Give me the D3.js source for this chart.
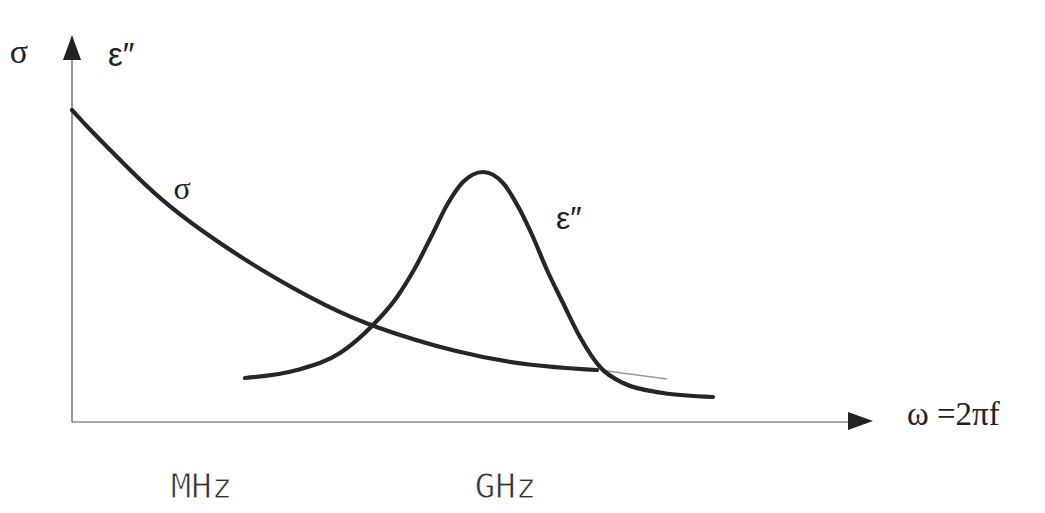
<!DOCTYPE html>
<html><head><meta charset="utf-8">
<script src="https://cdn.jsdelivr.net/npm/d3@7"></script>
<style>html,body{margin:0;padding:0;background:#fff;}svg{display:block;}</style>
</head><body>
<svg id="c" width="1045" height="513"></svg>
<script>
// Data (arbitrary units: x = log-frequency position, y = magnitude)
const sigmaX = [0, 21, 55, 88, 128, 188, 255, 301, 385, 458, 525];
const sigmaY = [312, 289, 255, 223, 192, 152, 115, 95, 69, 56, 52];
const epsX = [173, 225, 268, 298, 325, 343, 360, 375, 391, 411, 431, 448, 461, 475, 491, 508, 528, 551, 591, 641];
const epsY = [44, 52, 69, 94, 125, 154, 187, 217, 240, 250, 239, 212, 185, 152, 119, 85, 55, 39, 29, 25];
const faintX = [535, 595];
const faintY = [51, 43];
const tickLabels = ["MHz", "GHz"];
const tickPos = [129, 433];

const svg = d3.select("#c");
const x = d3.scaleLinear().domain([0, 780]).range([72, 852]);
const y = d3.scaleLinear().domain([0, 390]).range([422, 32]);
const ink = "#262626";

// axes
const xAxis = d3.axisBottom(x).tickValues(tickPos).tickFormat((d, i) => tickLabels[i]).tickSize(0).tickPadding(52);
const gx = svg.append("g").attr("transform", `translate(0,${y(0)})`).call(xAxis);
gx.select(".domain").attr("stroke", "#555").attr("stroke-width", 1.2).attr("d", `M${x(0)},0H${x(778)}`);
gx.selectAll("text").attr("font-family", "DejaVu Sans Mono, Liberation Mono, monospace").attr("font-size", 34)
  .attr("fill", "#333").attr("stroke", "#fff").attr("stroke-width", 0.8);

const yAxis = d3.axisLeft(y).tickValues([]).tickSizeOuter(0);
const gy = svg.append("g").attr("transform", `translate(${x(0)},0)`).call(yAxis);
gy.select(".domain").attr("stroke", "#555").attr("stroke-width", 1.2).attr("d", `M0,${y(0)}V${y(362)}`);

// arrowheads
svg.append("path").attr("d", `M${x(0)},${y(387)} L${x(0) - 9},${y(362)} L${x(0) + 9},${y(362)} Z`).attr("fill", "#222");
svg.append("path").attr("d", `M${x(801)},${y(1)} L${x(776)},${y(10)} L${x(776)},${y(-8)} Z`).attr("fill", "#222");

// curves
const lineS = d3.line().x(d => x(d[0])).y(d => y(d[1])).curve(d3.curveBasis);
const line = d3.line().x(d => x(d[0])).y(d => y(d[1])).curve(d3.curveMonotoneX);
svg.append("path").attr("d", line(d3.zip(faintX, faintY))).attr("fill", "none").attr("stroke", "#999").attr("stroke-width", 1.5);
svg.append("path").attr("d", lineS(d3.zip(sigmaX, sigmaY))).attr("fill", "none").attr("stroke", ink).attr("stroke-width", 4.2).attr("stroke-linecap", "round");
svg.append("path").attr("d", line(d3.zip(epsX, epsY))).attr("fill", "none").attr("stroke", ink).attr("stroke-width", 4.2).attr("stroke-linecap", "round");

// labels
const serif = "Liberation Serif, Times New Roman, serif";
const sans = "Liberation Sans, Arial, sans-serif";
svg.append("text").attr("x", 19).attr("y", 63).attr("text-anchor", "middle").attr("font-family", serif).attr("font-size", 34).attr("fill", "#222").text("σ");
svg.append("text").attr("x", 108).attr("y", 66).attr("font-family", sans).attr("font-size", 33).attr("fill", "#222").text("ε″");
svg.append("text").attr("x", 182).attr("y", 199).attr("text-anchor", "middle").attr("font-family", serif).attr("font-size", 32).attr("fill", "#222").text("σ");
svg.append("text").attr("x", 556).attr("y", 229).attr("font-family", sans).attr("font-size", 32).attr("fill", "#222").text("ε″");
svg.append("text").attr("x", 907).attr("y", 425).attr("font-family", serif).attr("font-size", 33).attr("fill", "#222").text("ω =2πf");
</script>
</body></html>
